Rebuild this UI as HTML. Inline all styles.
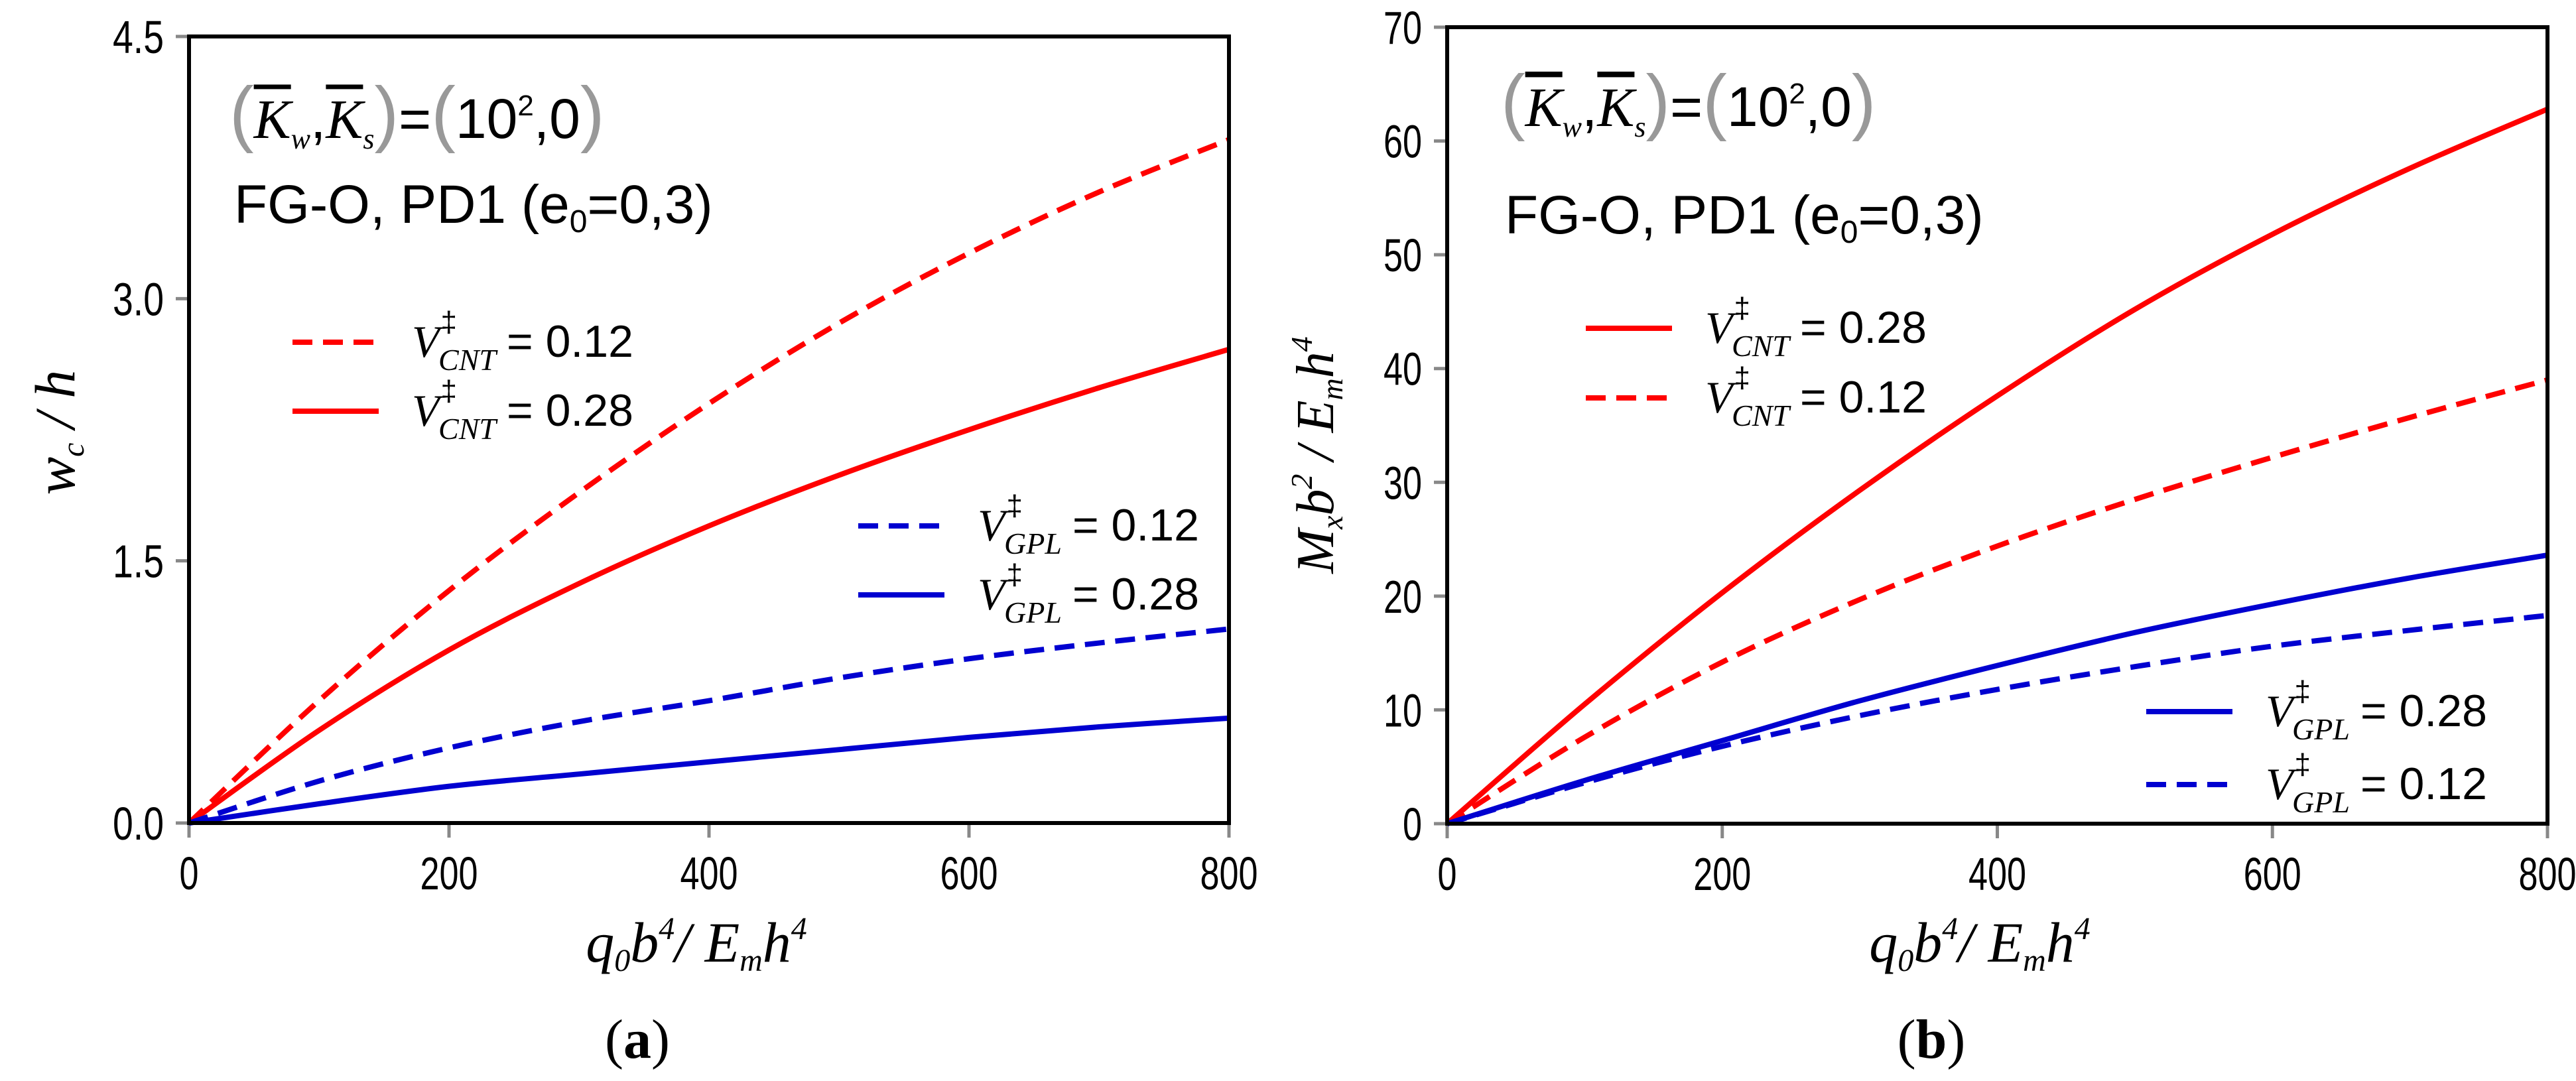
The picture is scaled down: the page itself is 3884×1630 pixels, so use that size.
<!DOCTYPE html>
<html><head><meta charset="utf-8"><style>
html,body{margin:0;padding:0;background:#fff;width:3884px;height:1630px;overflow:hidden}
svg{display:block}
text{font-family:"Liberation Sans",sans-serif}
.ser{font-family:"Liberation Serif",serif;font-style:italic}
.rom{font-family:"Liberation Serif",serif}
</style></head><body>
<svg id="fig" width="3884" height="1630" viewBox="0 0 3884 1630" xmlns="http://www.w3.org/2000/svg">
<g id="pa"></g>
<g id="pb"></g>
</svg>
<script>
// shared x data
const xVals = [0, 100, 200, 300, 400, 500, 600, 700, 800];
const xTicks = [0, 200, 400, 600, 800];
// panel a: w_c / h
const aTicks = [0, 1.5, 3.0, 4.5];
const aTickLabels = ["0.0", "1.5", "3.0", "4.5"];
const aCnt012 = [0, 0.70, 1.33, 1.89, 2.40, 2.86, 3.26, 3.61, 3.91];
const aCnt028 = [0, 0.53, 0.99, 1.37, 1.70, 1.99, 2.25, 2.49, 2.71];
const aGpl012 = [0, 0.24, 0.43, 0.58, 0.70, 0.83, 0.94, 1.03, 1.11];
const aGpl028 = [0, 0.11, 0.21, 0.28, 0.35, 0.42, 0.49, 0.55, 0.60];
// panel b: M_x b^2 / E_m h^4
const bTicks = [0, 10, 20, 30, 40, 50, 60, 70];
const bTickLabels = ["0", "10", "20", "30", "40", "50", "60", "70"];
const bCnt028 = [0, 10.5, 20.3, 29.3, 37.6, 45.2, 51.8, 57.6, 62.8];
const bCnt012 = [0, 7.6, 14.2, 19.7, 24.4, 28.5, 32.2, 35.7, 39.0];
const bGpl028 = [0, 3.8, 7.3, 10.8, 13.9, 16.8, 19.3, 21.6, 23.6];
const bGpl012 = [0, 3.6, 6.8, 9.5, 11.8, 13.8, 15.6, 17.0, 18.3];

const NS = "http://www.w3.org/2000/svg";
function mk(parent, tag, attrs, txt) {
  const e = document.createElementNS(NS, tag);
  for (const k in attrs) e.setAttribute(k, attrs[k]);
  if (txt !== undefined) e.textContent = txt;
  parent.appendChild(e);
  return e;
}
function curvePath(xs, ys, sx, sy) {
  const p = xs.map((x, i) => [sx(x), sy(ys[i])]);
  let d = "M" + p[0][0] + "," + p[0][1];
  for (let i = 0; i < p.length - 1; i++) {
    const p0 = p[Math.max(0, i - 1)], p1 = p[i], p2 = p[i + 1], p3 = p[Math.min(p.length - 1, i + 2)];
    const c1x = p1[0] + (p2[0] - p0[0]) / 6, c1y = p1[1] + (p2[1] - p0[1]) / 6;
    const c2x = p2[0] - (p3[0] - p1[0]) / 6, c2y = p2[1] - (p3[1] - p1[1]) / 6;
    d += " C" + c1x + "," + c1y + " " + c2x + "," + c2y + " " + p2[0] + "," + p2[1];
  }
  return d;
}
function panel(g, cfg) {
  const L = cfg.L, R = cfg.R, T = cfg.T, B = cfg.B;
  const sx = v => L + (v - 0) / 800 * (R - L);
  const sy = v => B - v / cfg.ymax * (B - T);
  cfg.yTicks.forEach((t, i) => {
    const tk = mk(g, "line", {x1: L - 20, x2: L, y1: sy(t), y2: sy(t), stroke: "#888", "stroke-width": 5});
    
    
    const lb = mk(g, "text", {x: L - 38, y: sy(t) + 25, "text-anchor": "end", "font-size": 70, textLength: cfg.yLabels[i].length * 29 - (cfg.yLabels[i].indexOf(".") >= 0 ? 10 : 0), lengthAdjust: "spacingAndGlyphs"}, cfg.yLabels[i]);
    
    
  });
  xTicks.forEach(t => {
    const tk = mk(g, "line", {x1: sx(t), x2: sx(t), y1: B, y2: B + 22, stroke: "#888", "stroke-width": 5});
    
    
    const s = String(t);
    const lb = mk(g, "text", {x: sx(t), y: B + 100, "text-anchor": "middle", "font-size": 70, textLength: s.length * 29, lengthAdjust: "spacingAndGlyphs"}, s);
    
    
  });
  cfg.series.forEach(s => {
    const p = mk(g, "path", {d: curvePath(xVals, s.data, sx, sy), fill: "none", stroke: s.color, "stroke-width": 8, "stroke-dasharray": s.dash ? "30 16" : "none"});
    
    
  });
  const fr = mk(g, "rect", {x: L, y: T, width: R - L, height: B - T, fill: "none", stroke: "#000", "stroke-width": 6});
  
  
  cfg.legend.forEach(e => {
    const lg = mk(g, "g", {});
    
    
    mk(lg, "line", {x1: e.x, x2: e.x + 130, y1: e.y - 22, y2: e.y - 22, stroke: e.color, "stroke-width": 8, "stroke-dasharray": e.dash ? "30 16" : "none"});
    const t = mk(lg, "text", {x: e.x + 180, y: e.y, "font-size": 68});
    mk(t, "tspan", {class: "ser"}, "V");
    mk(t, "tspan", {dy: -38, "font-size": 44, dx: 2}, "‡");
    mk(t, "tspan", {class: "ser", dy: 58, dx: -28, "font-size": 46}, e.sub);
    mk(t, "tspan", {dy: -20, dx: 16}, "= " + e.val);
  });
}
const pa = document.getElementById("pa");
panel(pa, {L: 285, R: 1853, T: 55, B: 1241, ymax: 4.5, yTicks: aTicks, yLabels: aTickLabels,
  series: [
    {name: "series-cnt-0.12", data: aCnt012, color: "#ff0000", dash: true},
    {name: "series-cnt-0.28", data: aCnt028, color: "#ff0000", dash: false},
    {name: "series-gpl-0.12", data: aGpl012, color: "#0000d0", dash: true},
    {name: "series-gpl-0.28", data: aGpl028, color: "#0000d0", dash: false}],
  legend: [
    {x: 441, y: 538, color: "#ff0000", dash: true, sub: "CNT", val: "0.12"},
    {x: 441, y: 642, color: "#ff0000", dash: false, sub: "CNT", val: "0.28"},
    {x: 1294, y: 815, color: "#0000d0", dash: true, sub: "GPL", val: "0.12"},
    {x: 1294, y: 919, color: "#0000d0", dash: false, sub: "GPL", val: "0.28"}]
});
const pb = document.getElementById("pb");
panel(pb, {L: 2182, R: 3841, T: 41, B: 1242, ymax: 70, yTicks: bTicks, yLabels: bTickLabels,
  series: [
    {name: "series-cnt-0.28", data: bCnt028, color: "#ff0000", dash: false},
    {name: "series-cnt-0.12", data: bCnt012, color: "#ff0000", dash: true},
    {name: "series-gpl-0.28", data: bGpl028, color: "#0000d0", dash: false},
    {name: "series-gpl-0.12", data: bGpl012, color: "#0000d0", dash: true}],
  legend: [
    {x: 2391, y: 517, color: "#ff0000", dash: false, sub: "CNT", val: "0.28"},
    {x: 2391, y: 622, color: "#ff0000", dash: true, sub: "CNT", val: "0.12"},
    {x: 3236, y: 1095, color: "#0000d0", dash: false, sub: "GPL", val: "0.28"},
    {x: 3236, y: 1205, color: "#0000d0", dash: true, sub: "GPL", val: "0.12"}]
});
</script>
<svg style="position:absolute;left:0;top:0" width="3884" height="1630">
  <text x="346" y="208" font-size="84"><tspan fill="#999" font-size="110">(</tspan><tspan class="ser" text-decoration="overline">K</tspan><tspan font-size="44" dy="16" class="ser">w</tspan><tspan dy="-16">,</tspan><tspan class="ser" text-decoration="overline">K</tspan><tspan font-size="44" dy="16" class="ser">s</tspan><tspan dy="-16" fill="#999" font-size="110">)</tspan>=<tspan fill="#999" font-size="110">(</tspan>10<tspan font-size="44" dy="-34">2</tspan><tspan dy="34">,0</tspan><tspan fill="#999" font-size="110">)</tspan></text>
  <text x="353" y="336" font-size="82">FG-O, PD1 (e<tspan font-size="48" dy="14">0</tspan><tspan dy="-14">=0,3)</tspan></text>
  <text transform="translate(112,652) rotate(-90)" text-anchor="middle" font-size="86" class="ser">w<tspan font-size="48" dy="14">c</tspan><tspan dy="-14"> / h</tspan></text>
  <text x="1050" y="1450" text-anchor="middle" font-size="86" class="ser">q<tspan font-size="48" dy="14">0</tspan><tspan dy="-14">b</tspan><tspan font-size="48" dy="-34">4</tspan><tspan dy="34">/ E</tspan><tspan font-size="48" dy="14">m</tspan><tspan dy="-14">h</tspan><tspan font-size="48" dy="-34">4</tspan></text>
  <text x="961" y="1595" text-anchor="middle" font-size="84" class="rom">(<tspan font-weight="bold">a</tspan>)</text>
  <text x="2263" y="190" font-size="84"><tspan fill="#999" font-size="110">(</tspan><tspan class="ser" text-decoration="overline">K</tspan><tspan font-size="44" dy="16" class="ser">w</tspan><tspan dy="-16">,</tspan><tspan class="ser" text-decoration="overline">K</tspan><tspan font-size="44" dy="16" class="ser">s</tspan><tspan dy="-16" fill="#999" font-size="110">)</tspan>=<tspan fill="#999" font-size="110">(</tspan>10<tspan font-size="44" dy="-34">2</tspan><tspan dy="34">,0</tspan><tspan fill="#999" font-size="110">)</tspan></text>
  <text x="2269" y="352" font-size="82">FG-O, PD1 (e<tspan font-size="48" dy="14">0</tspan><tspan dy="-14">=0,3)</tspan></text>
  <text transform="translate(2010,686) rotate(-90)" text-anchor="middle" font-size="80" class="ser">M<tspan font-size="46" dy="14">x</tspan><tspan dy="-14">b</tspan><tspan font-size="46" dy="-32">2</tspan><tspan dy="32"> / E</tspan><tspan font-size="46" dy="14">m</tspan><tspan dy="-14">h</tspan><tspan font-size="46" dy="-32">4</tspan></text>
  <text x="2985" y="1450" text-anchor="middle" font-size="86" class="ser">q<tspan font-size="48" dy="14">0</tspan><tspan dy="-14">b</tspan><tspan font-size="48" dy="-34">4</tspan><tspan dy="34">/ E</tspan><tspan font-size="48" dy="14">m</tspan><tspan dy="-14">h</tspan><tspan font-size="48" dy="-34">4</tspan></text>
  <text x="2912" y="1595" text-anchor="middle" font-size="84" class="rom">(<tspan font-weight="bold">b</tspan>)</text>
</svg>
</body></html>
